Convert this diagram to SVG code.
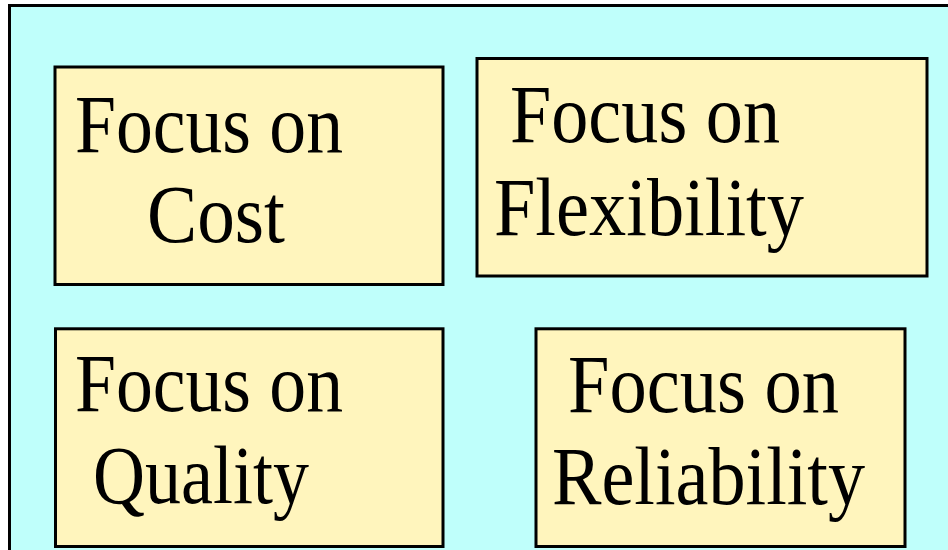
<svg xmlns="http://www.w3.org/2000/svg" width="948" height="550" viewBox="0 0 948 550">
  <style>
    .bg { fill: #BFFFFB; }
    .frame { fill: none; stroke: #000; stroke-width: 3; }
    .box { fill: #FFF5BD; stroke: #000; stroke-width: 3; }
    .lbl { font-family: "Liberation Serif", "Times New Roman", serif; font-size: 83px; fill: #000; }
  </style>
  <rect x="0" y="0" width="948" height="550" fill="#FFFFFF"/>
  <rect class="bg" x="9.5" y="5.5" width="940" height="546"/>
  <path class="frame" d="M9.5,552 V5.5 H950"/>
  <g id="connectors"/>
  <g id="node-cost">
    <rect class="box" x="55" y="67" width="388" height="217.5"/>
    <text class="lbl" x="75" y="152" textLength="268" lengthAdjust="spacingAndGlyphs">Focus on</text>
    <text class="lbl" x="147" y="242" textLength="138" lengthAdjust="spacingAndGlyphs">Cost</text>
  </g>
  <g id="node-flexibility">
    <rect class="box" x="477" y="58.5" width="450" height="217.5"/>
    <text class="lbl" x="510" y="142" textLength="270" lengthAdjust="spacingAndGlyphs">Focus on</text>
    <text class="lbl" x="494" y="235" textLength="310" lengthAdjust="spacingAndGlyphs">Flexibility</text>
  </g>
  <g id="node-quality">
    <rect class="box" x="55.5" y="328.8" width="387.5" height="217.7"/>
    <text class="lbl" x="75" y="411" textLength="268" lengthAdjust="spacingAndGlyphs">Focus on</text>
    <text class="lbl" x="93" y="503" textLength="216" lengthAdjust="spacingAndGlyphs">Quality</text>
  </g>
  <g id="node-reliability">
    <rect class="box" x="536" y="328.8" width="369" height="217.7"/>
    <text class="lbl" x="568" y="412" textLength="271" lengthAdjust="spacingAndGlyphs">Focus on</text>
    <text class="lbl" x="552" y="504" textLength="313" lengthAdjust="spacingAndGlyphs">Reliability</text>
  </g>
</svg>
